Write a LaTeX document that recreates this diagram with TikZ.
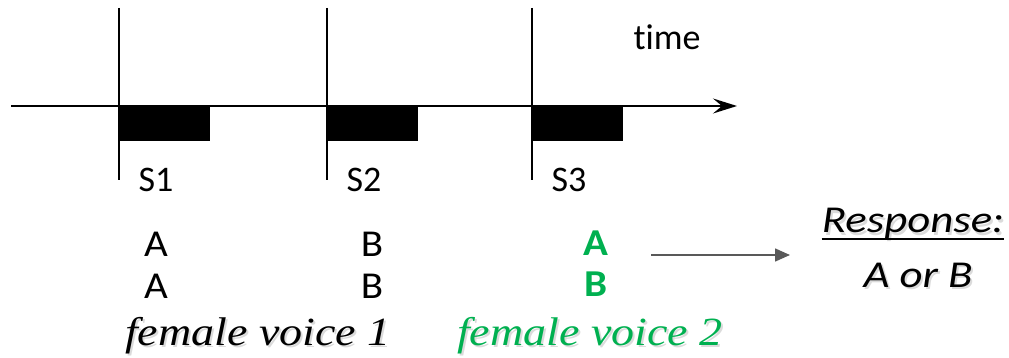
\documentclass[tikz,border=0pt]{standalone}
\usepackage{fontspec}
\setmainfont{Liberation Serif}
\newfontfamily\calibri{Carlito}[Ligatures=NoCommon]
\usetikzlibrary{arrows.meta,positioning}
\definecolor{voicegreen}{HTML}{00B050}
\definecolor{arrowgray}{HTML}{595959}

\begin{document}
\begin{tikzpicture}[x=1pt,y=-1pt,
    stim/.style={font=\calibri\fontsize{36}{42}\selectfont, anchor=base},
    letter/.style={font=\calibri\fontsize{38}{44}\selectfont, anchor=base, xscale=1.08},
    pick/.style={letter, text=voicegreen, font=\calibri\fontsize{38}{44}\selectfont\bfseries},
    voice/.style={font=\fontsize{40}{46}\selectfont\itshape, anchor=base, xscale=1.15},
    resp/.style={font=\calibri\fontsize{38}{44}\selectfont\itshape, anchor=base, inner sep=0pt, xscale=1.18},
    shade/.style={text=black!14}]
    \useasboundingbox (0,0) rectangle (1009,358);

    % time axis
    \coordinate (axisL) at (11,106);
    \coordinate (axisR) at (737,106);
    \draw[line width=2pt, -{Stealth[length=24pt,width=15pt,inset=9pt]}] (axisL) -- (axisR);
    \node[stim] (time) at (667,50) {time};

    % stimuli S1..S3
    \foreach \x/\n in {119/1, 327/2, 532/3} {
        \coordinate (top\n) at (\x,8);
        \coordinate (bot\n) at (\x,180);
        \fill (\x,106) rectangle (\x+91,141);
        \draw[line width=2pt] (top\n) -- (bot\n);
        \node[stim, anchor=base west] (S\n) at (\x+16,192) {S\n};
    }

    % letters
    \node[letter] (a1) at (156,256) {A};
    \node[letter] (a2) at (156,298) {A};
    \node[letter] (b1) at (372,256) {B};
    \node[letter] (b2) at (372,298) {B};
    \node[pick] (pa) at (596,255) {A};
    \node[pick] (pb) at (596,296) {B};

    % voices
    \node[voice, shade] (v1shade) at (260,347) {female voice 1};
    \node[voice] (v1) at (258,345) {female voice 1};
    \node[voice, shade] (v2shade) at (592,347) {female voice 2};
    \node[voice, text=voicegreen] (v2) at (590,345) {female voice 2};

    % response
    \coordinate (gA) at (651,255);
    \coordinate (gB) at (790,255);
    \draw[arrowgray, line width=1.5pt, -{Triangle[length=15pt,width=13pt]}] (gA) -- (gB);

    \node[resp, shade] (respshade) at (915,235) {Response:};
    \node[resp] (resp) at (913,233) {Response:};
    \draw[line width=2pt] ([yshift=-6pt]resp.base west) -- ([yshift=-6pt]resp.base east);
    \node[resp, shade] (orshade) at (920,289) {A or B};
    \node[resp] (or) at (918,287) {A or B};
\end{tikzpicture}
\end{document}
